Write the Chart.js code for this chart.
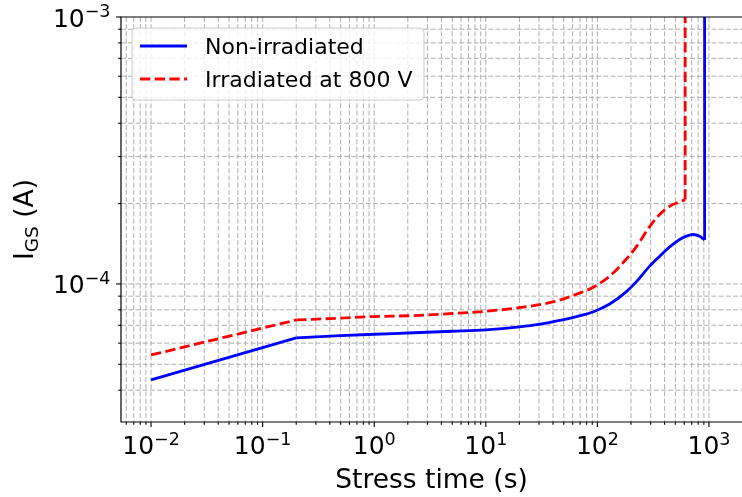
<!DOCTYPE html>
<html><head><meta charset="utf-8">
<script src="https://cdn.jsdelivr.net/npm/chart.js@4.4.0/dist/chart.umd.min.js"></script>
<style>html,body{margin:0;padding:0;background:#fff}#wrap{width:742px;height:497px}</style>
</head><body><div id="wrap"><canvas id="c" width="742" height="497"></canvas></div>
<script>
// ---- data ----
const seriesNames = ['Non-irradiated', 'Irradiated at 800 V'];
const timeNonIrr = [0.01, 0.2, 0.5, 1, 2, 5, 10, 20, 30, 46, 65, 91, 129, 182, 224, 294, 362, 445, 546, 627, 719, 826, 914, 914];
const currentNonIrr = [4.37e-5, 6.28e-5, 6.4e-5, 6.48e-5, 6.55e-5, 6.65e-5, 6.73e-5, 6.9e-5, 7.05e-5, 7.3e-5, 7.55e-5, 7.85e-5, 8.41e-5, 9.36e-5, 1.02e-4, 1.166e-4, 1.271e-4, 1.377e-4, 1.468e-4, 1.51e-4, 1.532e-4, 1.51e-4, 1.462e-4, 1e-3];
const timeIrr = [0.01, 0.2, 0.5, 1, 2, 5, 10, 20, 30, 46, 65, 91, 129, 182, 224, 294, 362, 445, 546, 612, 612];
const currentIrr = [5.42e-5, 7.33e-5, 7.45e-5, 7.55e-5, 7.6e-5, 7.75e-5, 7.9e-5, 8.15e-5, 8.36e-5, 8.7e-5, 9.15e-5, 9.7e-5, 1.07e-4, 1.24e-4, 1.38e-4, 1.64e-4, 1.82e-4, 1.955e-4, 2.03e-4, 2.07e-4, 1e-3];
const xTickExponents = [-2, -1, 0, 1, 2, 3];
const yTickExponents = [-4, -3];
const xAxisLabel = 'Stress time (s)';
const yAxisLabelParts = ['I', 'GS', ' (A)'];

const FONT = '"DejaVu Sans", sans-serif';
const DASH = [10.3, 4.4];
const COLORS = ['#0000ff', '#ff0000'];
const DASHES = [[], DASH];

function tickValues(min, max) {
  const v = [];
  for (let e = Math.floor(Math.log10(min)); e <= Math.ceil(Math.log10(max)); e++) {
    for (let m = 1; m <= 9; m++) {
      const val = m * Math.pow(10, e);
      if (val >= min * 0.9999 && val <= max * 1.0001) v.push(val);
    }
  }
  return v;
}
function isDecade(v) { const l = Math.log10(v); return Math.abs(l - Math.round(l)) < 1e-6; }

function drawPow(ctx, exp, x, y, align) {
  const base = '10', sup = exp < 0 ? '\u2212' + (-exp) : String(exp);
  ctx.font = '25px ' + FONT; const wb = ctx.measureText(base).width;
  ctx.font = '17.5px ' + FONT; const ws = ctx.measureText(sup).width;
  const x0 = align === 'center' ? x - (wb + ws) / 2 : x - (wb + ws);
  ctx.textAlign = 'left'; ctx.textBaseline = 'alphabetic'; ctx.fillStyle = '#000';
  ctx.font = '25px ' + FONT; ctx.fillText(base, x0, y);
  ctx.font = '17.5px ' + FONT; ctx.fillText(sup, x0 + wb, y - 9.5);
}

// split each measured curve into: initial straight rise, smooth body, final vertical breakdown
function pieces(times, values, seriesIndex) {
  const pts = times.map((t, i) => ({x: t, y: values[i]}));
  const n = pts.length;
  const common = {borderColor: COLORS[seriesIndex], borderWidth: 2.8, borderDash: DASHES[seriesIndex],
                  pointRadius: 0, fill: false, borderCapStyle: 'butt', borderJoinStyle: 'round'};
  return [
    Object.assign({label: seriesNames[seriesIndex], data: pts.slice(0, 2), tension: 0, legendSeries: seriesIndex}, common),
    Object.assign({label: seriesNames[seriesIndex], data: pts.slice(1, n - 1), cubicInterpolationMode: 'monotone'}, common),
    Object.assign({label: seriesNames[seriesIndex], data: pts.slice(n - 2), tension: 0}, common)
  ];
}

const decor = {
  id: 'decor',
  beforeDraw(chart) {
    const ctx = chart.ctx;
    ctx.save(); ctx.fillStyle = '#fff'; ctx.fillRect(0, 0, chart.width, chart.height); ctx.restore();
  },
  beforeDatasetsDraw(chart) {
    const {ctx, chartArea: a, scales: {x, y}} = chart;
    ctx.save();
    ctx.strokeStyle = '#b0b0b0'; ctx.lineWidth = 1; ctx.setLineDash([5, 2.2]);
    tickValues(x.min, x.max).forEach(v => {
      const px = x.getPixelForValue(v);
      if (px <= a.left + 0.5 || px >= a.right) return;
      ctx.beginPath(); ctx.moveTo(px, a.top); ctx.lineTo(px, a.bottom); ctx.stroke();
    });
    tickValues(y.min, y.max).forEach(v => {
      const py = y.getPixelForValue(v);
      if (py <= a.top + 0.5 || py >= a.bottom - 0.5) return;
      ctx.beginPath(); ctx.moveTo(a.left, py); ctx.lineTo(a.right, py); ctx.stroke();
    });
    ctx.restore();
  },
  afterDatasetsDraw(chart) {
    const {ctx, chartArea: a, scales: {x, y}} = chart;
    ctx.save();
    // spines
    ctx.strokeStyle = '#000'; ctx.lineWidth = 1.2; ctx.setLineDash([]);
    ctx.beginPath();
    ctx.moveTo(a.right + 2, a.top); ctx.lineTo(a.left, a.top); ctx.lineTo(a.left, a.bottom); ctx.lineTo(a.right + 2, a.bottom);
    ctx.stroke();
    // tick marks
    ctx.lineWidth = 1.1;
    tickValues(x.min, x.max).forEach(v => {
      const px = x.getPixelForValue(v), len = isDecade(v) ? 4.9 : 2.8;
      ctx.beginPath(); ctx.moveTo(px, a.bottom); ctx.lineTo(px, a.bottom + len); ctx.stroke();
    });
    tickValues(y.min, y.max).forEach(v => {
      const py = y.getPixelForValue(v), len = isDecade(v) ? 4.9 : 2.8;
      ctx.beginPath(); ctx.moveTo(a.left, py); ctx.lineTo(a.left - len, py); ctx.stroke();
    });
    // tick labels
    xTickExponents.forEach(e => drawPow(ctx, e, x.getPixelForValue(Math.pow(10, e)), a.bottom + 32, 'center'));
    yTickExponents.forEach(e => drawPow(ctx, e, a.left - 10.5, y.getPixelForValue(Math.pow(10, e)) + 9.5, 'right'));
    // x axis label
    ctx.fillStyle = '#000'; ctx.font = '26.5px ' + FONT; ctx.textAlign = 'center'; ctx.textBaseline = 'alphabetic';
    ctx.fillText(xAxisLabel, (a.left + a.right) / 2, 488);
    // y axis label (rotated, with subscript)
    ctx.save();
    ctx.translate(33, (a.top + a.bottom) / 2);
    ctx.rotate(-Math.PI / 2);
    ctx.textAlign = 'left';
    ctx.font = '26.5px ' + FONT; const w0 = ctx.measureText(yAxisLabelParts[0]).width;
    ctx.font = '18.5px ' + FONT; const w1 = ctx.measureText(yAxisLabelParts[1]).width;
    ctx.font = '26.5px ' + FONT; const w2 = ctx.measureText(yAxisLabelParts[2]).width;
    let sx = -(w0 + w1 + w2) / 2;
    ctx.font = '26.5px ' + FONT; ctx.fillText(yAxisLabelParts[0], sx, 0); sx += w0;
    ctx.font = '18.5px ' + FONT; ctx.fillText(yAxisLabelParts[1], sx, 4.5); sx += w1;
    ctx.font = '26.5px ' + FONT; ctx.fillText(yAxisLabelParts[2], sx, 0);
    ctx.restore();
    // legend
    const bx = 132, by = 28, bw = 292, bh = 72, r = 4;
    ctx.beginPath();
    ctx.moveTo(bx + r, by); ctx.lineTo(bx + bw - r, by); ctx.quadraticCurveTo(bx + bw, by, bx + bw, by + r);
    ctx.lineTo(bx + bw, by + bh - r); ctx.quadraticCurveTo(bx + bw, by + bh, bx + bw - r, by + bh);
    ctx.lineTo(bx + r, by + bh); ctx.quadraticCurveTo(bx, by + bh, bx, by + bh - r);
    ctx.lineTo(bx, by + r); ctx.quadraticCurveTo(bx, by, bx + r, by); ctx.closePath();
    ctx.fillStyle = 'rgba(255,255,255,0.8)'; ctx.fill();
    ctx.strokeStyle = '#cccccc'; ctx.lineWidth = 1; ctx.stroke();
    const rows = [46, 79];
    chart.data.datasets.filter(ds => ds.legendSeries !== undefined).forEach(ds => {
      const i = ds.legendSeries;
      ctx.strokeStyle = ds.borderColor; ctx.lineWidth = ds.borderWidth;
      ctx.setLineDash(ds.borderDash || []);
      ctx.beginPath(); ctx.moveTo(140, rows[i]); ctx.lineTo(187, rows[i]); ctx.stroke();
      ctx.setLineDash([]);
      ctx.fillStyle = '#000'; ctx.font = '22px ' + FONT; ctx.textAlign = 'left'; ctx.textBaseline = 'alphabetic';
      ctx.fillText(ds.label, 205, rows[i] + 8.3);
    });
    ctx.restore();
  }
};

new Chart(document.getElementById('c'), {
  type: 'line',
  data: {
    datasets: [...pieces(timeNonIrr, currentNonIrr, 0), ...pieces(timeIrr, currentIrr, 1)]
  },
  options: {
    responsive: false, animation: false, devicePixelRatio: 1,
    layout: {padding: {top: 17, left: 0, right: 0, bottom: 0}},
    plugins: {legend: {display: false}, tooltip: {enabled: false}},
    scales: {
      x: {type: 'logarithmic', min: 5.38e-3, max: 1977,
          grid: {display: false}, border: {display: false}, ticks: {display: false},
          afterFit(s) { s.height = 75; }},
      y: {type: 'logarithmic', min: 3.04e-5, max: 1e-3,
          grid: {display: false}, border: {display: false}, ticks: {display: false},
          afterFit(s) { s.width = 121; }}
    }
  },
  plugins: [decor]
});
</script></body></html>
